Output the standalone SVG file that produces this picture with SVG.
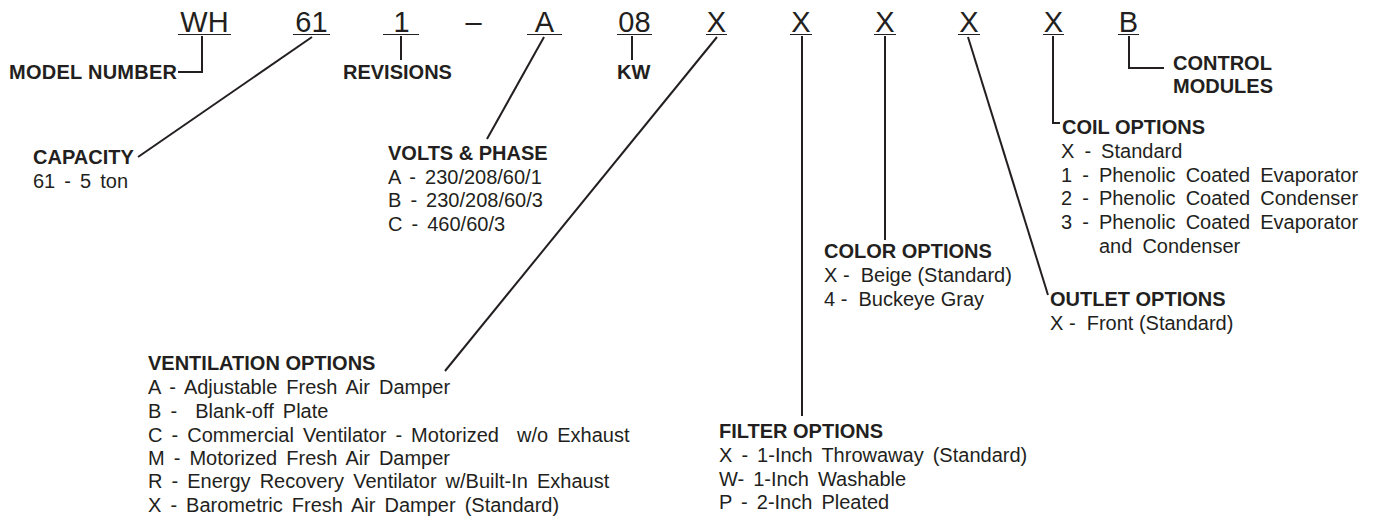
<svg xmlns="http://www.w3.org/2000/svg" width="1377" height="521" viewBox="0 0 1377 521">
<style>
text{font-family:"Liberation Sans",Arial,sans-serif;fill:#231f20}
.code{font-size:29px;text-anchor:middle}
.h{font-size:20px;font-weight:bold}
.t{font-size:20px;word-spacing:3.5px}
.ul{stroke:#231f20;stroke-width:1.2;fill:none}
.c{stroke:#231f20;stroke-width:2;fill:none}
</style>
<rect width="1377" height="521" fill="#fff"/>
<g id="code">
<text class="code" x="204.5" y="32">WH</text>
<text class="code" x="311.5" y="32">61</text>
<text class="code" x="401.5" y="32">1</text>
<text class="code" x="473.5" y="32">–</text>
<text class="code" x="544.5" y="32">A</text>
<text class="code" x="634.5" y="32">08</text>
<text class="code" x="716.5" y="32">X</text>
<text class="code" x="801" y="32">X</text>
<text class="code" x="885" y="32">X</text>
<text class="code" x="969" y="32">X</text>
<text class="code" x="1053.5" y="32">X</text>
<text class="code" x="1128.5" y="32">B</text>
<path class="ul" d="M178 34.5H231M293 34.5H330M383 34.5H419M527 34.5H562M617 34.5H652M706 34.5H727M790 34.5H812M874 34.5H896M958 34.5H980M1043 34.5H1064M1118 34.5H1139"/>
</g>
<g id="connectors">
<path class="c" d="M202 36V72H178"/>
<path class="c" d="M312 37L138 157"/>
<path class="c" d="M401 36V60"/>
<path class="c" d="M544 37L487 139"/>
<path class="c" d="M632 36V60"/>
<path class="c" d="M717 37L445 371"/>
<path class="c" d="M802 36V416"/>
<path class="c" d="M885 36V240"/>
<path class="c" d="M968 37L1048 295"/>
<path class="c" d="M1053 36V123H1060"/>
<path class="c" d="M1129 36V68H1164"/>
</g>
<g id="model-number"><text class="h" x="9" y="79" textLength="168">MODEL NUMBER</text></g>
<g id="revisions"><text class="h" x="343" y="79">REVISIONS</text></g>
<g id="kw"><text class="h" x="617" y="79">KW</text></g>
<g id="control-modules">
<text class="h" x="1173" y="70">CONTROL</text>
<text class="h" x="1173" y="93">MODULES</text>
</g>
<g id="capacity">
<text class="h" x="33" y="164">CAPACITY</text>
<text class="t" x="33" y="188">61 - 5 ton</text>
</g>
<g id="volts-phase">
<text class="h" x="388" y="160">VOLTS &amp; PHASE</text>
<text class="t" x="388" y="184">A - 230/208/60/1</text>
<text class="t" x="388" y="207">B - 230/208/60/3</text>
<text class="t" x="388" y="231">C - 460/60/3</text>
</g>
<g id="ventilation-options">
<text class="h" x="148" y="370">VENTILATION OPTIONS</text>
<text class="t" x="148" y="394">A - Adjustable Fresh Air Damper</text>
<text class="t" x="148" y="418" xml:space="preserve">B -  Blank-off Plate</text>
<text class="t" x="148" y="442" xml:space="preserve">C - Commercial Ventilator - Motorized  w/o Exhaust</text>
<text class="t" x="148" y="465">M - Motorized Fresh Air Damper</text>
<text class="t" x="148" y="488">R - Energy Recovery Ventilator w/Built-In Exhaust</text>
<text class="t" x="148" y="512">X - Barometric Fresh Air Damper (Standard)</text>
</g>
<g id="filter-options">
<text class="h" x="719" y="438">FILTER OPTIONS</text>
<text class="t" x="719" y="462">X - 1-Inch Throwaway (Standard)</text>
<text class="t" x="719" y="486">W- 1-Inch Washable</text>
<text class="t" x="719" y="509">P - 2-Inch Pleated</text>
</g>
<g id="color-options">
<text class="h" x="824" y="258">COLOR OPTIONS</text>
<text class="t" x="824" y="282" style="word-spacing:0" xml:space="preserve">X -  Beige (Standard)</text>
<text class="t" x="824" y="306" style="word-spacing:0" xml:space="preserve">4 -  Buckeye Gray</text>
</g>
<g id="outlet-options">
<text class="h" x="1050" y="306">OUTLET OPTIONS</text>
<text class="t" x="1050" y="330" style="word-spacing:0" xml:space="preserve">X -  Front (Standard)</text>
</g>
<g id="coil-options">
<text class="h" x="1062" y="134">COIL OPTIONS</text>
<text class="t" x="1061" y="158" style="word-spacing:4.5px">X - Standard</text>
<text class="t" x="1061" y="182" style="word-spacing:4.5px">1 - Phenolic Coated Evaporator</text>
<text class="t" x="1061" y="205" style="word-spacing:4.5px">2 - Phenolic Coated Condenser</text>
<text class="t" x="1061" y="229" style="word-spacing:4.5px">3 - Phenolic Coated Evaporator</text>
<text class="t" x="1099" y="253" style="word-spacing:4.5px">and Condenser</text>
</g>
</svg>
